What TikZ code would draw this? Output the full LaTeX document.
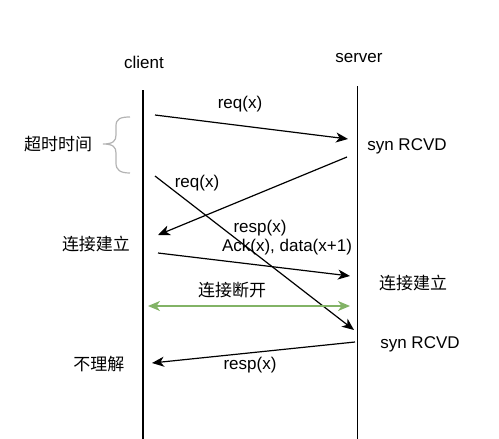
\documentclass[tikz,border=0pt]{standalone}
\usepackage{fontspec}
\setmainfont{Liberation Sans}
\newfontfamily\cjk{Noto Sans CJK SC}
\usepackage{xcolor}
\usetikzlibrary{arrows.meta}
\definecolor{linkgreen}{HTML}{82B366}
\definecolor{bracegray}{HTML}{B3B3B3}

\begin{document}
\begin{tikzpicture}[x=1pt,y=-1pt,line width=1.2pt,
	every node/.style={font=\fontsize{17}{20}\selectfont,inner sep=0pt},
	msg/.style={-{Stealth[length=12pt,width=10pt,inset=3.5pt]}}]
	\useasboundingbox (0,0) rectangle (499,439);
	% lifelines
	\node (client) at (144,62) {client};
	\node (server) at (359,58) {server};
	\coordinate (ctop) at (143,90);
	\coordinate (cbot) at (143,439);
	\coordinate (stop) at (357.5,86);
	\coordinate (sbot) at (357.5,439);
	\draw (ctop) -- (cbot);
	\draw (stop) -- (sbot);
	
	% first req(x)
	\coordinate (r1a) at (155,115);
	\coordinate (r1b) at (348,139);
	\draw[msg] (r1a) -- (r1b);
	\node (req1) at (240,104) {req(x)};
	\node (syn1) at (407,146) {syn RCVD};
	
	% answer to first req(x)
	\coordinate (a1a) at (347,157);
	\coordinate (a1b) at (158,235);
	\draw[msg] (a1a) -- (a1b);
	\node (resp1) at (260,228) {resp(x)};
	
	% resent req(x)
	\coordinate (r2a) at (155,176);
	\coordinate (r2b) at (354,330);
	\draw[msg] (r2a) -- (r2b);
	\node (req2) at (197,183) {req(x)};
	
	% timeout brace
	\draw[bracegray] (130,117) .. controls (120,117) and (116,119) .. (116,126) -- (116,135) .. controls (116,141) and (113,144) .. (103,144) .. controls (113,144) and (116,147) .. (116,153) -- (116,163) .. controls (116,170) and (120,173) .. (130,173);
	\node (timeout) at (58,144) {\cjk 超时时间};
	
	\node (est1) at (96,244) {\cjk 连接建立};
	
	% ack
	\coordinate (k1a) at (158,253);
	\coordinate (k1b) at (350,276);
	\draw[msg] (k1a) -- (k1b);
	\node (ack) at (287,247) {Ack(x), data(x+1)};
	\node (est2) at (413,283) {\cjk 连接建立};
	
	% close
	\coordinate (g1a) at (148,306);
	\coordinate (g1b) at (350,306);
	\draw[linkgreen,{Stealth[length=12pt,width=10pt,inset=3.5pt]}-{Stealth[length=12pt,width=10pt,inset=3.5pt]}] (g1a) -- (g1b);
	\node (close) at (232,290) {\cjk 连接断开};
	
	% second answer
	\node (syn2) at (420,344) {syn RCVD};
	\coordinate (a2a) at (355,342);
	\coordinate (a2b) at (152,363);
	\draw[msg] (a2a) -- (a2b);
	\node (resp2) at (250,365) {resp(x)};
	\node (lost) at (99,364) {\cjk 不理解};
\end{tikzpicture}
\end{document}
